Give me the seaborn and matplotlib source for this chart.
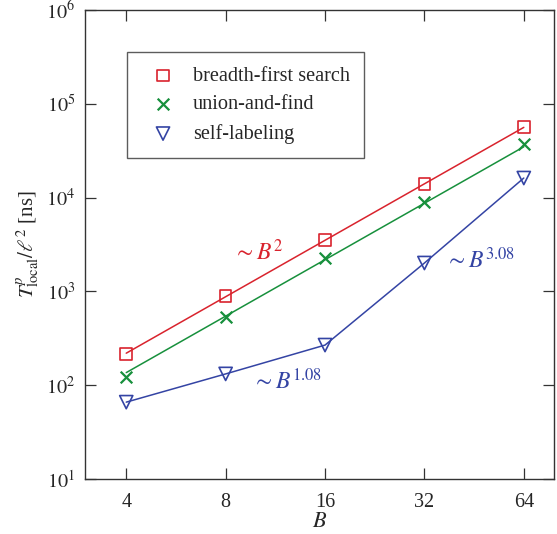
import numpy as np
import pandas as pd
import matplotlib
matplotlib.use("Agg")
import matplotlib.pyplot as plt
import seaborn as sns

# Data
B = [4, 8, 16, 32, 64]
bfs = [215, 893, 3530, 13960, 56600]
uf = [122, 533, 2270, 8980, 37250]
sl = [66, 132, 268, 2010, 16200]
xticks = [4, 8, 16, 32, 64]
labels = ["breadth-first search", "union-and-find", "self-labeling"]

RED = "#d9232d"
GREEN = "#17903c"
BLUE = "#3444a4"

sns.set_style("ticks")
plt.rcParams["font.family"] = ["Liberation Serif", "DejaVu Serif"]
plt.rcParams["mathtext.fontset"] = "stix"
plt.rcParams["xtick.direction"] = "in"
plt.rcParams["ytick.direction"] = "in"

fig = plt.figure(figsize=(5.57, 5.34), dpi=100)
ax = fig.add_axes([0.1526, 0.103, 0.8420, 0.878])

# power-law fits with exponent 2 for BFS and UF
xb = np.array(B, float)
for vals, col in [(bfs, RED), (uf, GREEN)]:
    c = np.mean(np.log10(vals) - 2 * np.log10(xb))
    sns.lineplot(x=xb, y=10 ** (c + 2 * np.log10(xb)), color=col, lw=1.1, ax=ax,
                 legend=False)
# self-labeling connected
sns.lineplot(x=B, y=sl, color=BLUE, lw=1.1, ax=ax, legend=False)

ms = 70
ax.scatter(B, bfs, marker="s", s=ms, facecolors="none", edgecolors=RED, lw=1.2,
           label=labels[0], zorder=3)
ax.scatter(B, uf, marker="x", s=ms, color=GREEN, lw=1.6, label=labels[1], zorder=3)
ax.scatter(B, sl, marker="v", s=ms + 20, facecolors="none", edgecolors=BLUE, lw=1.2,
           label=labels[2], zorder=3)

ax.set_xscale("log", base=2)
ax.set_yscale("log")
ax.set_xlim(3.0, 79)
ax.set_ylim(10, 1e6)
ax.set_xticks(xticks)
ax.set_xticklabels([str(t) for t in xticks])
ax.set_yticks([10 ** k for k in range(1, 7)])
ax.set_yticklabels([f"$10^{{{k}}}$" for k in range(1, 7)])
ax.minorticks_off()
ax.tick_params(axis="both", which="major", length=8, width=0.9, labelsize=14.5,
               top=True, right=True, color="#333333", pad=7)
ax.tick_params(axis="x", pad=10)
for s in ax.spines.values():
    s.set_linewidth(1.0)
    s.set_color("#333333")

ax.set_xlabel("$B$", fontsize=16, labelpad=1)
ax.set_ylabel(r"$T^{p}_{\mathrm{local}}/\ell^{2}$ [ns]", fontsize=15, labelpad=3)

ax.text(10.0, 2.6e3, r"$\sim B^{2}$", color=RED, fontsize=17, ha="center", va="center")
ax.text(12.3, 1.1e2, r"$\sim B^{1.08}$", color=BLUE, fontsize=17, ha="center", va="center")
ax.text(47, 2.15e3, r"$\sim B^{3.08}$", color=BLUE, fontsize=17, ha="center", va="center")

leg = ax.legend(loc="upper left", bbox_to_anchor=(0.0896, 0.910), frameon=True,
                fancybox=False, edgecolor="#333333", fontsize=14.6, handlelength=2.15,
                handletextpad=0.4, borderpad=0.7, labelspacing=0.47,
                borderaxespad=0)
leg.get_frame().set_linewidth(1.0)

fig.savefig("out.png", dpi=100)
